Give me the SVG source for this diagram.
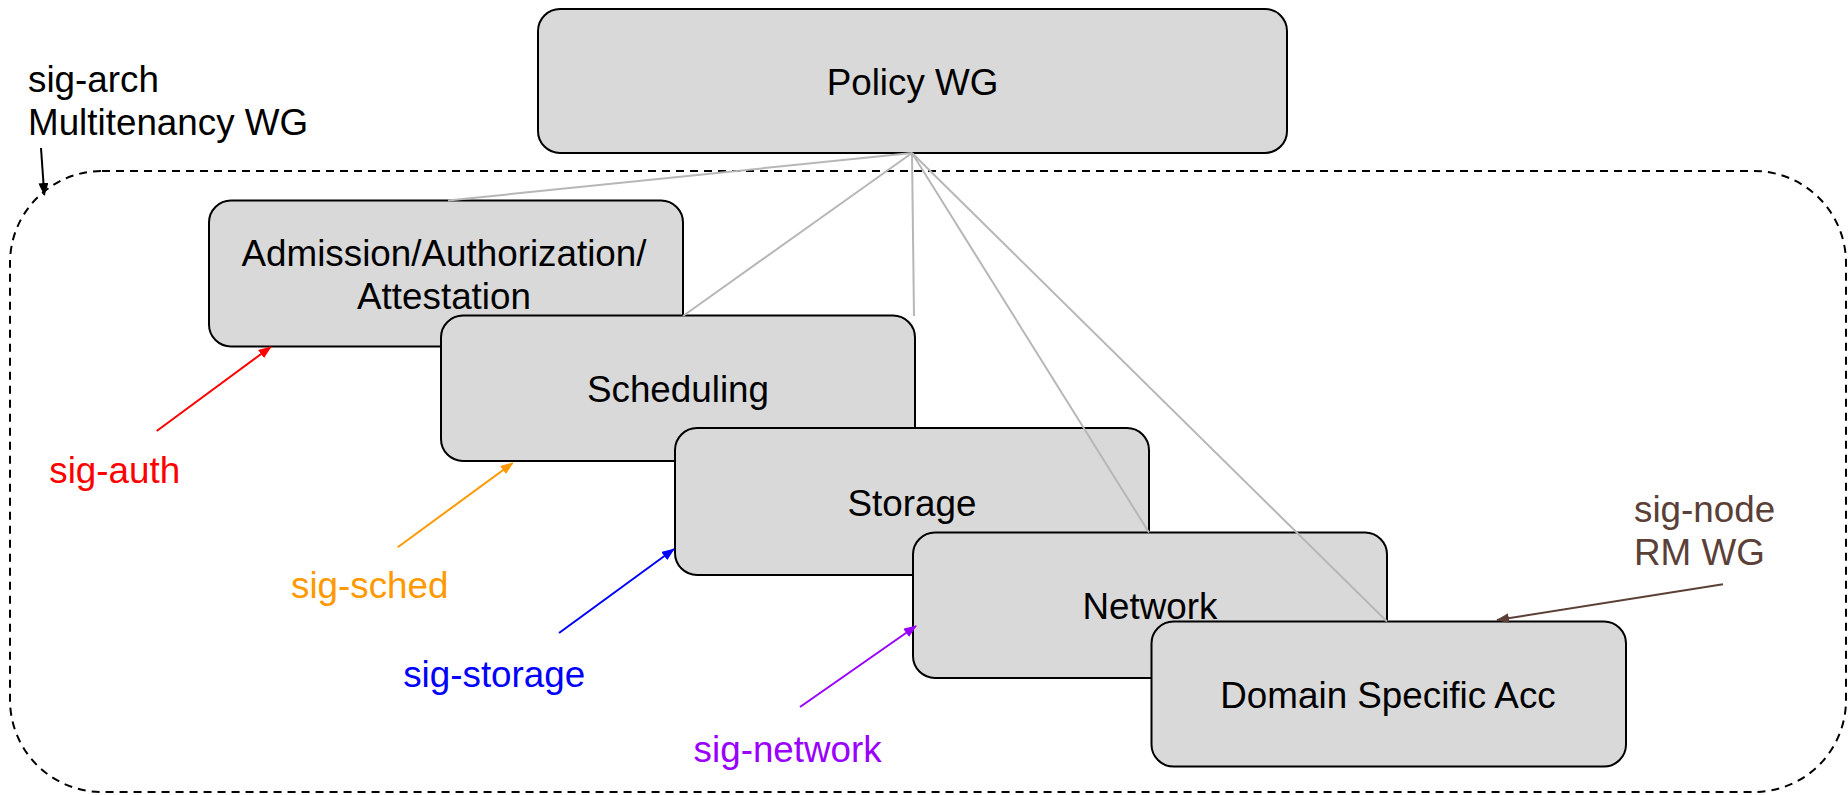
<svg xmlns="http://www.w3.org/2000/svg" width="1848" height="795" viewBox="0 0 1848 795">
<style>
.box{fill:#d9d9d9;stroke:#000;stroke-width:2}
.lbl{font-family:"Liberation Sans",Arial,sans-serif;font-size:36.8px;fill:#000}
.c{text-anchor:middle}
.link{stroke:#b7b7b7;stroke-width:2;fill:none}
.arr{stroke-width:2;fill:none}
</style>
<defs>
<marker id="mk" markerUnits="userSpaceOnUse" markerWidth="14" markerHeight="10" refX="12" refY="5" orient="auto"><path d="M0,0 L13,5 L0,10 z" fill="#000"/></marker>
<marker id="mr" markerUnits="userSpaceOnUse" markerWidth="14" markerHeight="10" refX="12" refY="5" orient="auto"><path d="M0,0 L13,5 L0,10 z" fill="#ff0000"/></marker>
<marker id="mo" markerUnits="userSpaceOnUse" markerWidth="14" markerHeight="10" refX="12" refY="5" orient="auto"><path d="M0,0 L13,5 L0,10 z" fill="#ff9900"/></marker>
<marker id="mb" markerUnits="userSpaceOnUse" markerWidth="14" markerHeight="10" refX="12" refY="5" orient="auto"><path d="M0,0 L13,5 L0,10 z" fill="#0000ff"/></marker>
<marker id="mp" markerUnits="userSpaceOnUse" markerWidth="14" markerHeight="10" refX="12" refY="5" orient="auto"><path d="M0,0 L13,5 L0,10 z" fill="#9900ff"/></marker>
<marker id="mn" markerUnits="userSpaceOnUse" markerWidth="14" markerHeight="10" refX="12" refY="5" orient="auto"><path d="M0,0 L13,5 L0,10 z" fill="#5b4037"/></marker>
</defs>
<rect width="1848" height="795" fill="#fff"/>

<g id="multitenancy">
<rect x="10" y="171" width="1836" height="621" rx="92" ry="92" fill="none" stroke="#000" stroke-width="2" stroke-dasharray="8,6"/>
<text class="lbl" x="28" y="92">sig-arch</text>
<text class="lbl" x="28" y="135">Multitenancy WG</text>
</g>

<g id="policy">
<rect class="box" x="538" y="9" width="749" height="144" rx="22"/>
<text class="lbl c" x="912.5" y="95">Policy WG</text>
</g>

<g id="admission">
<rect class="box" x="209" y="200.5" width="474" height="146" rx="22"/>
<text class="lbl c" x="444" y="265.7">Admission/Authorization/</text>
<text class="lbl c" x="444" y="309.3">Attestation</text>
</g>

<g id="scheduling">
<rect class="box" x="441" y="315.5" width="474" height="145.5" rx="22"/>
<text class="lbl c" x="678" y="402">Scheduling</text>
</g>

<g id="storage">
<rect class="box" x="675" y="428" width="474" height="147" rx="22"/>
<text class="lbl c" x="912" y="515.5">Storage</text>
</g>

<g id="network">
<rect class="box" x="913" y="532.5" width="474" height="145.5" rx="22"/>
<text class="lbl c" x="1150" y="619">Network</text>
</g>

<g id="domain">
<rect class="box" x="1151.5" y="621.5" width="474.5" height="145" rx="22"/>
<text class="lbl c" x="1388" y="708.3">Domain Specific Acc</text>
</g>

<g id="sig-labels">
<text class="lbl" x="49.3" y="482.7" style="fill:#ff0000">sig-auth</text>
<text class="lbl" x="291" y="598" style="fill:#ff9900">sig-sched</text>
<text class="lbl" x="403.2" y="687" style="fill:#0000ff">sig-storage</text>
<text class="lbl" x="693.6" y="762" style="fill:#9900ff">sig-network</text>
<text class="lbl" x="1634" y="522" style="fill:#5b4037">sig-node</text>
<text class="lbl" x="1634" y="565" style="fill:#5b4037">RM WG</text>
</g>

<g id="connectors">
<line class="link" x1="912" y1="153" x2="448" y2="200.5"/>
<line class="link" x1="912" y1="153" x2="683" y2="316"/>
<line class="link" x1="912" y1="153" x2="914" y2="316"/>
<line class="link" x1="912" y1="153" x2="1149" y2="532.5"/>
<line class="link" x1="912" y1="153" x2="1387" y2="621.5"/>
<line class="arr" x1="41" y1="148" x2="44.3" y2="195" stroke="#000" marker-end="url(#mk)"/>
<line class="arr" x1="156.7" y1="431" x2="270.7" y2="347" stroke="#ff0000" marker-end="url(#mr)"/>
<line class="arr" x1="397.7" y1="547.3" x2="512.7" y2="463" stroke="#ff9900" marker-end="url(#mo)"/>
<line class="arr" x1="559" y1="633" x2="674" y2="549" stroke="#0000ff" marker-end="url(#mb)"/>
<line class="arr" x1="800" y1="707" x2="916" y2="626" stroke="#9900ff" marker-end="url(#mp)"/>
<line class="arr" x1="1723" y1="584.3" x2="1497" y2="620" stroke="#5b4037" marker-end="url(#mn)"/>
</g>
</svg>
